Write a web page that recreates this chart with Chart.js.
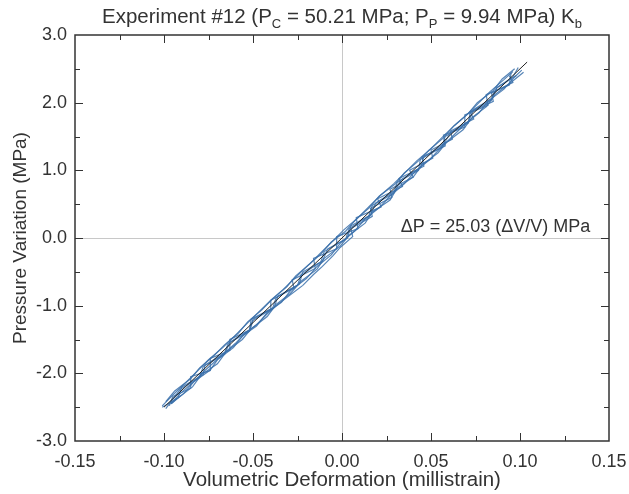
<!DOCTYPE html>
<html>
<head>
<meta charset="utf-8">
<script src="https://cdn.jsdelivr.net/npm/chart.js@4"></script>
<style>
  body { margin: 0; background: #fff; }
  canvas { display: block; }
</style>
</head>
<body>
<canvas id="myChart" width="629" height="494"></canvas>
<script>
// load / unload cycles (x in millistrain, y in MPa)
const cycle1X = [-0.096, -0.089, -0.083, -0.074, -0.070, -0.061, -0.056, -0.048, -0.042, -0.034, -0.029, -0.020, -0.014, -0.006, -0.001, 0.007, 0.013, 0.021, 0.027, 0.035, 0.041, 0.049, 0.055, 0.062, 0.069, 0.077, 0.082, 0.091, 0.097, 0.101];
const cycle1Y = [-2.45, -2.30, -2.12, -1.95, -1.80, -1.62, -1.45, -1.30, -1.10, -0.95, -0.78, -0.60, -0.42, -0.25, -0.08, 0.10, 0.28, 0.45, 0.62, 0.80, 0.98, 1.15, 1.32, 1.50, 1.68, 1.85, 2.02, 2.20, 2.38, 2.48];
const cycle2X = [0.097, 0.090, 0.085, 0.076, 0.071, 0.063, 0.057, 0.049, 0.043, 0.035, 0.030, 0.021, 0.015, 0.008, 0.002, -0.006, -0.012, -0.019, -0.026, -0.033, -0.040, -0.047, -0.054, -0.060, -0.067, -0.075, -0.081, -0.088, -0.095, -0.101];
const cycle2Y = [2.50, 2.35, 2.18, 2.00, 1.84, 1.66, 1.48, 1.30, 1.14, 0.96, 0.80, 0.62, 0.44, 0.28, 0.10, -0.06, -0.24, -0.40, -0.58, -0.76, -0.92, -1.10, -1.28, -1.44, -1.62, -1.80, -1.96, -2.14, -2.32, -2.48];
const cycle3X = [-0.101, -0.092, -0.090, -0.078, -0.077, -0.066, -0.064, -0.052, -0.050, -0.039, -0.037, -0.025, -0.023, -0.012, -0.010, 0.002, 0.004, 0.015, 0.017, 0.029, 0.031, 0.043, 0.044, 0.056, 0.058, 0.071, 0.072, 0.084, 0.087, 0.098];
const cycle3Y = [-2.50, -2.36, -2.20, -2.02, -1.88, -1.70, -1.56, -1.38, -1.22, -1.04, -0.88, -0.70, -0.54, -0.36, -0.20, -0.02, 0.14, 0.32, 0.48, 0.66, 0.82, 1.00, 1.16, 1.34, 1.50, 1.70, 1.86, 2.04, 2.22, 2.40];
const cycle4X = [0.102, 0.094, 0.086, 0.081, 0.073, 0.068, 0.059, 0.054, 0.045, 0.040, 0.031, 0.027, 0.017, 0.013, 0.004, -0.001, -0.010, -0.014, -0.023, -0.029, -0.037, -0.042, -0.051, -0.056, -0.065, -0.070, -0.079, -0.084, -0.093, -0.096];
const cycle4Y = [2.45, 2.28, 2.12, 1.94, 1.78, 1.60, 1.42, 1.26, 1.08, 0.90, 0.74, 0.56, 0.38, 0.22, 0.04, -0.12, -0.30, -0.46, -0.64, -0.82, -0.98, -1.16, -1.34, -1.50, -1.68, -1.86, -2.02, -2.20, -2.38, -2.45];
const cycle5X = [-0.099, -0.094, -0.085, -0.080, -0.072, -0.066, -0.058, -0.053, -0.045, -0.039, -0.031, -0.026, -0.018, -0.012, -0.005, 0.001, 0.009, 0.015, 0.022, 0.029, 0.036, 0.042, 0.050, 0.056, 0.063, 0.070, 0.077, 0.083, 0.091, 0.096];
const cycle5Y = [-2.42, -2.26, -2.08, -1.92, -1.74, -1.58, -1.40, -1.24, -1.06, -0.90, -0.72, -0.56, -0.38, -0.22, -0.04, 0.12, 0.30, 0.46, 0.64, 0.80, 0.98, 1.14, 1.32, 1.48, 1.66, 1.82, 2.00, 2.16, 2.34, 2.46];
const cycle6X = [0.099, 0.096, 0.087, 0.084, 0.074, 0.071, 0.061, 0.057, 0.046, 0.044, 0.033, 0.030, 0.019, 0.016, 0.005, 0.003, -0.008, -0.011, -0.022, -0.024, -0.036, -0.038, -0.050, -0.052, -0.063, -0.066, -0.078, -0.080, -0.091, -0.099];
const cycle6Y = [2.52, 2.38, 2.22, 2.06, 1.90, 1.72, 1.56, 1.38, 1.20, 1.04, 0.86, 0.70, 0.52, 0.34, 0.18, 0.00, -0.16, -0.34, -0.50, -0.68, -0.86, -1.02, -1.20, -1.36, -1.54, -1.72, -1.90, -2.06, -2.24, -2.52];
const cycle7X = [-0.097, -0.095, -0.085, -0.085, -0.074, -0.074, -0.063, -0.063, -0.052, -0.051, -0.040, -0.040, -0.027, -0.028, -0.015, -0.016, -0.003, -0.003, 0.009, 0.008, 0.022, 0.020, 0.034, 0.032, 0.046, 0.045, 0.058, 0.057, 0.069, 0.069, 0.082, 0.081, 0.094, 0.095];
const cycle7Y = [-2.48, -2.34, -2.22, -2.05, -1.96, -1.78, -1.66, -1.50, -1.36, -1.20, -1.05, -0.92, -0.74, -0.62, -0.45, -0.30, -0.16, 0.02, 0.14, 0.30, 0.46, 0.58, 0.76, 0.88, 1.06, 1.20, 1.36, 1.52, 1.64, 1.82, 1.96, 2.12, 2.26, 2.44];
const cycle8X = [0.094, 0.096, 0.084, 0.085, 0.072, 0.074, 0.061, 0.062, 0.050, 0.051, 0.038, 0.040, 0.027, 0.028, 0.016, 0.017, 0.005, 0.006, -0.001, -0.005, -0.011, -0.016, -0.022, -0.029, -0.036, -0.042, -0.048, -0.054, -0.060, -0.066, -0.072, -0.078, -0.084, -0.091, -0.096];
const cycle8Y = [2.40, 2.30, 2.14, 2.02, 1.86, 1.76, 1.58, 1.46, 1.30, 1.18, 1.00, 0.90, 0.72, 0.60, 0.44, 0.32, 0.14, 0.02, -0.14, -0.26, -0.42, -0.54, -0.70, -0.84, -0.98, -1.12, -1.28, -1.40, -1.56, -1.70, -1.84, -1.98, -2.14, -2.30, -2.44];

// linear fit dP = 25.03 (dV/V)
const fitX = [-0.100, 0.104];
const fitY = [-2.50, 2.60];

const xMajorTicks = [-0.15, -0.10, -0.05, 0.00, 0.05, 0.10, 0.15];
const xMinorTicks = [-0.125, -0.075, -0.025, 0.025, 0.075, 0.125];
const yMajorTicks = [-3, -2, -1, 0, 1, 2, 3];
const yMinorTicks = [-2.5, -1.5, -0.5, 0.5, 1.5, 2.5];

const cycles = [[cycle1X, cycle1Y], [cycle2X, cycle2Y], [cycle3X, cycle3Y], [cycle4X, cycle4Y],
  [cycle5X, cycle5Y], [cycle6X, cycle6Y], [cycle7X, cycle7Y], [cycle8X, cycle8Y]];
const toPoints = (xs, ys) => xs.map((x, i) => ({ x: x, y: ys[i] }));

const FONT = '"Liberation Sans", Arial, sans-serif';
const TEXT = '#333';

let datasets = [{
  data: toPoints(fitX, fitY),
  borderColor: '#222',
  borderWidth: 1,
  pointRadius: 0,
  showLine: true
}];
cycles.forEach(c => {
  datasets.push({
    data: toPoints(c[0], c[1]),
    borderColor: 'rgba(58,112,170,0.85)',
    borderWidth: 1.2,
    pointRadius: 0,
    showLine: true,
    tension: 0
  });
});

// frame, inward ticks, title with subscripts and fit label
let decorations = {
  id: 'decorations',
  afterDatasetsDraw: (chart) => {
    let ctx = chart.ctx;
    let a = chart.chartArea;
    let xs = chart.scales.x, ys = chart.scales.y;
    ctx.save();
    ctx.strokeStyle = '#333';
    ctx.lineWidth = 1;
    let tick = (vals, len) => {
      vals.forEach(v => {
        let px = Math.round(xs.getPixelForValue(v)) + 0.5;
        ctx.beginPath();
        ctx.moveTo(px, a.bottom); ctx.lineTo(px, a.bottom - len);
        ctx.moveTo(px, a.top); ctx.lineTo(px, a.top + len);
        ctx.stroke();
      });
    };
    let tickY = (vals, len) => {
      vals.forEach(v => {
        let py = Math.round(ys.getPixelForValue(v)) + 0.5;
        ctx.beginPath();
        ctx.moveTo(a.left, py); ctx.lineTo(a.left + len, py);
        ctx.moveTo(a.right, py); ctx.lineTo(a.right - len, py);
        ctx.stroke();
      });
    };
    tick(xMajorTicks.slice(1, -1), 8);
    tick(xMinorTicks, 5);
    tickY(yMajorTicks.slice(1, -1), 8);
    tickY(yMinorTicks, 5);
    ctx.lineWidth = 1.5;
    ctx.strokeRect(a.left, a.top, a.right - a.left, a.bottom - a.top);

    // fit label
    ctx.fillStyle = TEXT;
    ctx.font = '18px ' + FONT;
    ctx.textBaseline = 'middle';
    ctx.textAlign = 'left';
    ctx.fillText('\u0394P = 25.03 (\u0394V/V) MPa', xs.getPixelForValue(0.033), ys.getPixelForValue(0.16));

    // title
    let parts = [
      ['Experiment #12 (P', false], ['C', true], [' = 50.21 MPa; P', false], ['P', true],
      [' = 9.94 MPa) K', false], ['b', true]
    ];
    let big = '20.5px ' + FONT, small = '13px ' + FONT;
    let w = 0;
    parts.forEach(p => { ctx.font = p[1] ? small : big; w += ctx.measureText(p[0]).width; });
    let x = (a.left + a.right) / 2 - w / 2;
    ctx.textBaseline = 'alphabetic';
    parts.forEach(p => {
      ctx.font = p[1] ? small : big;
      ctx.fillText(p[0], x, p[1] ? 28 : 23);
      x += ctx.measureText(p[0]).width;
    });
    ctx.restore();
  }
};

let zeroLine = (c) => Math.abs(c.tick.value) < 1e-9 ? '#c8c8c8' : 'rgba(0,0,0,0)';

let chart = new Chart(document.getElementById('myChart').getContext('2d'), {
  type: 'scatter',
  data: { datasets: datasets },
  options: {
    responsive: false,
    animation: false,
    layout: { padding: { left: 0, right: 20, top: 35, bottom: 0 } },
    plugins: { legend: { display: false }, tooltip: { enabled: false }, title: { display: false } },
    scales: {
      x: {
        type: 'linear',
        min: -0.15,
        max: 0.15,
        afterFit: (s) => { s.height = 53; s.paddingLeft = 0; s.paddingRight = 0; },
        afterBuildTicks: (s) => { s.ticks = xMajorTicks.map(v => ({ value: v })); },
        border: { display: false },
        grid: { color: zeroLine, drawTicks: false, lineWidth: 1 },
        ticks: {
          padding: 10,
          color: TEXT,
          font: { family: FONT, size: 18 },
          maxRotation: 0,
          callback: (v) => v.toFixed(2)
        },
        title: {
          display: true,
          text: 'Volumetric Deformation (millistrain)',
          color: TEXT,
          font: { family: FONT, size: 20.5 },
          padding: { top: 0, bottom: 1 }
        }
      },
      y: {
        type: 'linear',
        min: -3,
        max: 3,
        afterFit: (s) => { s.width = 75; s.paddingTop = 0; s.paddingBottom = 0; },
        afterBuildTicks: (s) => { s.ticks = yMajorTicks.map(v => ({ value: v })); },
        border: { display: false },
        grid: { color: zeroLine, drawTicks: false, lineWidth: 1 },
        ticks: {
          padding: 8,
          color: TEXT,
          font: { family: FONT, size: 18 },
          callback: (v) => v.toFixed(1)
        },
        title: {
          display: true,
          text: 'Pressure Variation (MPa)',
          color: TEXT,
          font: { family: FONT, size: 19 },
          padding: { top: 9, bottom: 0 }
        }
      }
    }
  },
  plugins: [decorations]
});
</script>
</body>
</html>
